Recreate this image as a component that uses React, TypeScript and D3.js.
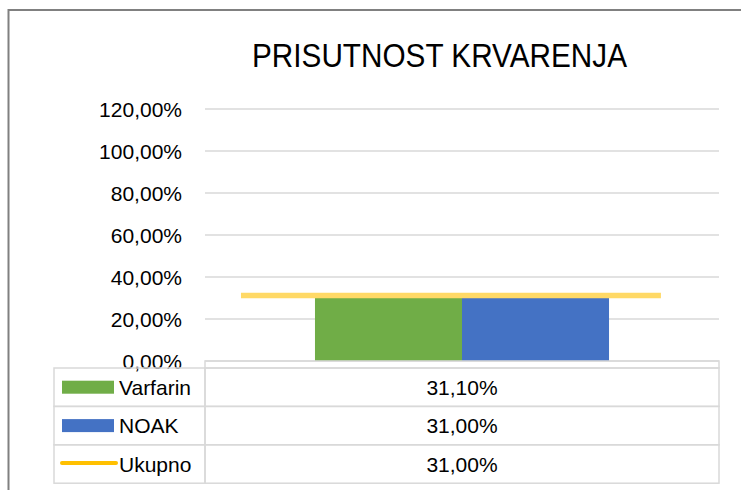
import React from "react";
import * as d3 from "d3";

const title = "PRISUTNOST KRVARENJA";
const categories = [""];
const seriesNames = ["Varfarin", "NOAK"];
const barValues = [0.311, 0.31];
const lineName = "Ukupno";
const lineValues = [0.31];
const yTicks = [0, 0.2, 0.4, 0.6, 0.8, 1.0, 1.2];
const tableLabels = ["31,10%", "31,00%", "31,00%"];

const barColors = ["#70AD47", "#4472C4"];
const lineColor = "#FFD966";
const legendLineColor = "#FFC000";
const gridColor = "#D9D9D9";
const FONT = "'Liberation Sans', Arial, sans-serif";

const W = 741;
const H = 490;

export default function App() {
  const plotLeft = 205;
  const plotRight = 719;
  const plotTop = 109;
  const plotBottom = 361;

  const y = d3.scaleLinear().domain([0, 1.2]).range([plotBottom, plotTop]);
  const x0 = d3.scaleBand<string>().domain(categories).range([plotLeft, plotRight]).padding(0);
  const x1 = d3
    .scaleBand<string>()
    .domain(seriesNames)
    .range([0, x0.bandwidth()])
    .paddingInner(0)
    .paddingOuter(0.748);

  const fmt = (v: number) => d3.format(".2f")(v * 100).replace(".", ",") + "%";

  const tableTop = 368;
  const headTop = 361;
  const rowH = 38.4;
  const colSplit = plotLeft;
  const tableLeft = 54;
  const rows = [
    { name: seriesNames[0], type: "bar", color: barColors[0], label: tableLabels[0] },
    { name: seriesNames[1], type: "bar", color: barColors[1], label: tableLabels[1] },
    { name: lineName, type: "line", color: legendLineColor, label: tableLabels[2] },
  ];

  return (
    <svg
      width={W}
      height={H}
      style={{ position: "absolute", left: 0, top: 0, background: "#fff" }}
      fontFamily={FONT}
    >
      <rect x={0} y={0} width={W} height={H} fill="#fff" />
      {/* outer frame (cropped) */}
      <rect x={8.5} y={10} width={W + 20} height={H + 20} fill="none" stroke="#808080" strokeWidth={2} />

      <text
        x={252}
        y={66.5}
        fontSize={33}
        textLength={375}
        lengthAdjust="spacingAndGlyphs"
        fill="#000"
      >
        {title}
      </text>

      {/* gridlines */}
      {yTicks.map((t) => (
        <line
          key={"g" + t}
          x1={plotLeft}
          x2={plotRight}
          y1={y(t)}
          y2={y(t)}
          stroke={gridColor}
          strokeWidth={1.5}
        />
      ))}
      {yTicks.map((t) => (
        <text
          key={"l" + t}
          x={182}
          y={y(t)}
          dy="0.36em"
          textAnchor="end"
          fontSize={21}
          fill="#000"
        >
          {fmt(t)}
        </text>
      ))}

      {/* bars */}
      {categories.map((c) =>
        seriesNames.map((s, i) => (
          <rect
            key={c + s}
            x={(x0(c) ?? 0) + (x1(s) ?? 0)}
            y={y(barValues[i])}
            width={x1.bandwidth()}
            height={plotBottom - y(barValues[i])}
            fill={barColors[i]}
          />
        ))
      )}

      {/* line series */}
      {categories.map((c, i) => (
        <line
          key={"ln" + c}
          x1={(x0(c) ?? 0) + x0.bandwidth() * 0.07}
          x2={(x0(c) ?? 0) + x0.bandwidth() * 0.887}
          y1={y(lineValues[i]) - 0.5}
          y2={y(lineValues[i]) - 0.5}
          stroke={lineColor}
          strokeWidth={5.5}
        />
      ))}

      {/* data table */}
      <g fill="none" stroke={gridColor} strokeWidth={1.5}>
        <rect x={colSplit} y={headTop} width={plotRight - colSplit} height={tableTop - headTop} />
        {rows.map((r, i) => (
          <g key={"tr" + i}>
            <rect x={tableLeft} y={tableTop + i * rowH} width={colSplit - tableLeft} height={rowH} />
            <rect x={colSplit} y={tableTop + i * rowH} width={plotRight - colSplit} height={rowH} />
          </g>
        ))}
      </g>
      {rows.map((r, i) => {
        const cy = tableTop + i * rowH + rowH / 2;
        return (
          <g key={"tc" + i}>
            {r.type === "bar" ? (
              <rect x={62} y={cy - 6.5} width={52} height={13} fill={r.color} />
            ) : (
              <line x1={62} x2={116} y1={cy - 1} y2={cy - 1} stroke={r.color} strokeWidth={4} strokeLinecap="round" />
            )}
            <text x={119} y={cy} dy="0.36em" fontSize={21} fill="#000">
              {r.name}
            </text>
            <text x={(colSplit + plotRight) / 2} y={cy} dy="0.36em" fontSize={21} textAnchor="middle" fill="#000">
              {r.label}
            </text>
          </g>
        );
      })}
    </svg>
  );
}
